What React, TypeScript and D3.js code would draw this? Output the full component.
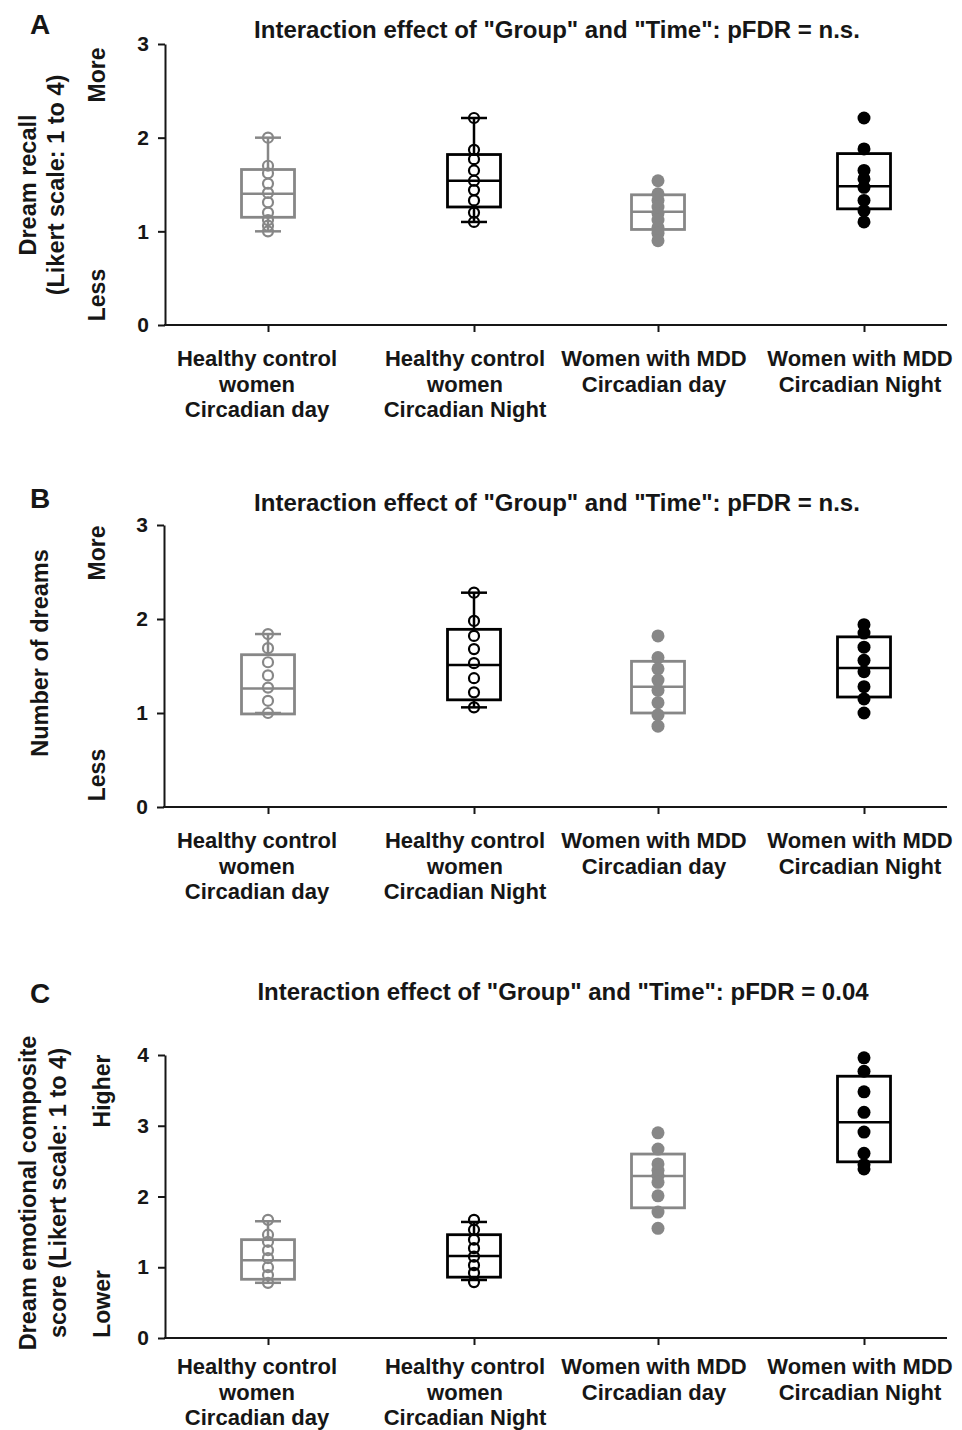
import { useEffect, useRef } from 'react';
import * as d3 from 'd3';

// groups (x categories), in plot order
const groups = ['hcDay', 'hcNight', 'mddDay', 'mddNight'];
const groupLabels = [
  ['Healthy control', 'women', 'Circadian day'],
  ['Healthy control', 'women', 'Circadian Night'],
  ['Women with MDD', 'Circadian day'],
  ['Women with MDD', 'Circadian Night'],
];

// A: dream recall  -- individual points per group
const recallPoints = [
  [2.0, 1.7, 1.62, 1.51, 1.41, 1.31, 1.2, 1.12, 1.06, 1.0],
  [2.21, 1.87, 1.77, 1.65, 1.54, 1.44, 1.33, 1.2, 1.1],
  [1.54, 1.4, 1.33, 1.26, 1.19, 1.12, 1.04, 0.98, 0.9],
  [2.21, 1.88, 1.65, 1.56, 1.47, 1.33, 1.22, 1.1],
];
// [q1, median, q3, whiskerLow, whiskerHigh]
const recallBoxes = [
  [1.15, 1.4, 1.66, 1.0, 2.0],
  [1.26, 1.54, 1.82, 1.1, 2.21],
  [1.02, 1.21, 1.39, null, null],
  [1.24, 1.48, 1.83, null, null],
];

// B: number of dreams
const dreamsPoints = [
  [1.84, 1.69, 1.54, 1.4, 1.27, 1.13, 1.0],
  [2.28, 1.98, 1.82, 1.68, 1.53, 1.37, 1.22, 1.06],
  [1.82, 1.59, 1.47, 1.35, 1.24, 1.11, 0.98, 0.86],
  [1.94, 1.85, 1.7, 1.56, 1.44, 1.28, 1.15, 1.0],
];
const dreamsBoxes = [
  [0.99, 1.26, 1.62, 1.0, 1.84],
  [1.14, 1.51, 1.89, 1.06, 2.28],
  [1.0, 1.28, 1.55, null, null],
  [1.17, 1.48, 1.81, null, null],
];

// C: dream emotional composite score
const emotionPoints = [
  [1.67, 1.46, 1.36, 1.24, 1.13, 1.0, 0.89, 0.78],
  [1.67, 1.53, 1.39, 1.27, 1.15, 1.03, 0.92, 0.79],
  [2.9, 2.67, 2.46, 2.37, 2.29, 2.2, 2.01, 1.78, 1.55],
  [3.96, 3.77, 3.48, 3.19, 2.91, 2.61, 2.45, 2.39],
];
const emotionBoxes = [
  [0.83, 1.1, 1.39, 0.78, 1.65],
  [0.86, 1.16, 1.46, 0.82, 1.64],
  [1.84, 2.29, 2.6, null, null],
  [2.49, 3.05, 3.7, null, null],
];

const titleNs = 'Interaction effect of "Group" and "Time": pFDR = n.s.';
const titleC = 'Interaction effect of "Group" and "Time": pFDR = 0.04';

const FONT = '"Liberation Sans", Arial, sans-serif';
const INK = '#161616';
const GRAY = '#878787';

const panels = [
  {
    letter: 'A', title: titleNs, titleX: 557, titleY: 38, letterY: 34,
    yTop: 44, yBot: 325, yMax: 3, axisX: 165,
    yLabel: ['Dream recall', '(Likert scale: 1 to 4)'], yLabelX: [28, 56], yLabelY: 185,
    hi: 'More', lo: 'Less', hiX: 97, hiY: 75, loY: 295,
    labelY: 366, points: recallPoints, boxes: recallBoxes,
  },
  {
    letter: 'B', title: titleNs, titleX: 557, titleY: 511, letterY: 508,
    yTop: 525, yBot: 807, yMax: 3, axisX: 164,
    yLabel: ['Number of dreams'], yLabelX: [40], yLabelY: 653,
    hi: 'More', lo: 'Less', hiX: 97, hiY: 553, loY: 775,
    labelY: 848, points: dreamsPoints, boxes: dreamsBoxes,
  },
  {
    letter: 'C', title: titleC, titleX: 563, titleY: 1000, letterY: 1003,
    yTop: 1055, yBot: 1338, yMax: 4, axisX: 165,
    yLabel: ['Dream emotional composite', 'score (Likert scale: 1 to 4)'], yLabelX: [28, 58], yLabelY: 1193,
    hi: 'Higher', lo: 'Lower', hiX: 102, hiY: 1091, loY: 1304,
    labelY: 1374, points: emotionPoints, boxes: emotionBoxes,
  },
];

const App = () => {
  const svgRef = useRef<SVGSVGElement>(null);

  useEffect(() => {
    const svg = d3.select(svgRef.current);
    svg.selectAll('*').remove();

    // box centres and label centres (the figure is not evenly spaced)
    const x = d3.scaleOrdinal<string, number>().domain(groups).range([268, 474, 658, 864]);
    const xLabel = d3.scaleOrdinal<string, number>().domain(groups).range([257, 465, 654, 860]);
    const axisRight = 947;
    const boxW = 53;
    const capW = 26;

    panels.forEach(p => {
      const g = svg.append('g');
      const y = d3.scaleLinear().domain([0, p.yMax]).range([p.yBot, p.yTop]);

      // panel letter + title
      g.append('text')
        .attr('x', 40).attr('y', p.letterY)
        .attr('text-anchor', 'middle')
        .attr('font-size', 28).attr('font-weight', 'bold').attr('fill', INK)
        .text(p.letter);
      g.append('text')
        .attr('x', p.titleX).attr('y', p.titleY)
        .attr('text-anchor', 'middle')
        .attr('font-size', 24).attr('font-weight', 'bold').attr('fill', INK)
        .text(p.title);

      // y axis
      const ya = g.append('g')
        .attr('transform', `translate(${p.axisX},0)`)
        .call(d3.axisLeft(y).ticks(p.yMax).tickFormat(d3.format('d')).tickSize(7).tickSizeOuter(0).tickPadding(9));
      ya.selectAll('.domain').attr('stroke', INK).attr('stroke-width', 2);
      ya.selectAll('.tick line').attr('stroke', INK).attr('stroke-width', 2);
      ya.selectAll('.tick text')
        .attr('font-size', 21).attr('font-weight', 'bold').attr('font-family', FONT).attr('fill', INK);

      // x axis (line drawn to the right edge, ticks at group centres)
      const xa = g.append('g')
        .attr('transform', `translate(0,${p.yBot})`)
        .call(d3.axisBottom(x as any).tickSize(7).tickFormat(() => ''));
      xa.selectAll('.domain').remove();
      xa.selectAll('.tick line').attr('stroke', INK).attr('stroke-width', 2);
      g.append('line')
        .attr('x1', p.axisX - 1).attr('x2', axisRight)
        .attr('y1', p.yBot).attr('y2', p.yBot)
        .attr('stroke', INK).attr('stroke-width', 2);

      // category labels
      groups.forEach((gr, i) => {
        const t = g.append('text')
          .attr('text-anchor', 'middle')
          .attr('font-size', 22).attr('font-weight', 'bold').attr('fill', INK);
        groupLabels[i].forEach((line, k) => {
          t.append('tspan')
            .attr('x', xLabel(gr)).attr('y', p.labelY + k * 25.5)
            .text(line);
        });
      });

      // y labels
      p.yLabel.forEach((line, k) => {
        g.append('text')
          .attr('transform', `translate(${p.yLabelX[k]},${p.yLabelY}) rotate(-90)`)
          .attr('text-anchor', 'middle').attr('dominant-baseline', 'central')
          .attr('font-size', 23.5).attr('font-weight', 'bold').attr('fill', INK)
          .text(line);
      });
      [[p.hi, p.hiY], [p.lo, p.loY]].forEach(([txt, cy]) => {
        g.append('text')
          .attr('transform', `translate(${p.hiX},${cy}) rotate(-90)`)
          .attr('text-anchor', 'middle').attr('dominant-baseline', 'central')
          .attr('font-size', 23).attr('font-weight', 'bold').attr('fill', INK)
          .text(txt as string);
      });

      // boxes, whiskers, points
      groups.forEach((gr, i) => {
        const cx = x(gr);
        const color = i % 2 === 0 ? GRAY : '#000';
        const filled = i >= 2;
        const [q1, med, q3, lo, hi] = p.boxes[i];
        const bg = g.append('g');

        if (lo != null && hi != null) {
          bg.append('line')
            .attr('x1', cx).attr('x2', cx).attr('y1', y(hi)).attr('y2', y(q3))
            .attr('stroke', color).attr('stroke-width', 2.5);
          bg.append('line')
            .attr('x1', cx).attr('x2', cx).attr('y1', y(q1)).attr('y2', y(lo))
            .attr('stroke', color).attr('stroke-width', 2.5);
          [lo, hi].forEach(v => {
            bg.append('line')
              .attr('x1', cx - capW / 2).attr('x2', cx + capW / 2)
              .attr('y1', y(v)).attr('y2', y(v))
              .attr('stroke', color).attr('stroke-width', 2.5);
          });
        }
        bg.append('rect')
          .attr('x', cx - boxW / 2).attr('width', boxW)
          .attr('y', y(q3)).attr('height', y(q1) - y(q3))
          .attr('fill', 'none').attr('stroke', color).attr('stroke-width', 2.8);
        bg.append('line')
          .attr('x1', cx - boxW / 2).attr('x2', cx + boxW / 2)
          .attr('y1', y(med)).attr('y2', y(med))
          .attr('stroke', color).attr('stroke-width', 2.5);

        bg.selectAll('circle')
          .data(p.points[i]).enter().append('circle')
          .attr('cx', cx).attr('cy', d => y(d))
          .attr('r', filled ? 6.5 : 5)
          .attr('fill', filled ? color : 'none')
          .attr('stroke', color).attr('stroke-width', filled ? 0 : 2.2);
      });
    });
  }, []);

  return (
    <svg
      ref={svgRef}
      width={962}
      height={1430}
      style={{ position: 'absolute', left: 0, top: 0, background: '#fff', fontFamily: FONT }}
    />
  );
};

export default App;
